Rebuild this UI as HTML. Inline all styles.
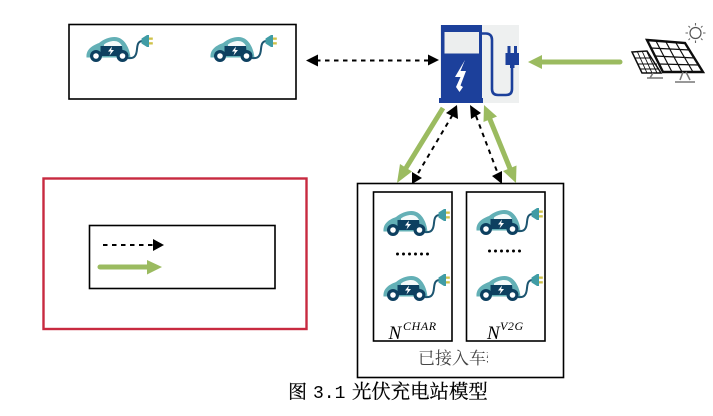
<!DOCTYPE html>
<html>
<head>
<meta charset="utf-8">
<style>
html,body{margin:0;padding:0;background:#fff;width:713px;height:416px;overflow:hidden}
svg{display:block}
.cjk{font-family:"Liberation Serif","Noto Serif CJK SC",serif}
.m{font-family:"Liberation Serif",serif;font-style:italic;fill:#000}
</style>
</head>
<body>
<svg width="713" height="416" viewBox="0 0 713 416" xmlns="http://www.w3.org/2000/svg">
<defs>
<filter id="b" x="-10%" y="-10%" width="120%" height="120%"><feGaussianBlur stdDeviation="0.38"/></filter>
<clipPath id="c"><rect x="410" y="340" width="78" height="30"/></clipPath>
<g id="car">
  <path d="M-0.500 22.500 C-1 15 4 11 12 8 C18 3 26 1 31 2.500 C38 4.500 42.500 13 43.500 22.500Z" fill="#63b0b6"/>
  <path d="M17 9.500 C21 6.500 26 5.500 29.500 6.300 C32 7 34 9 35 11 L17 11Z" fill="#f4fafa"/>
  <path d="M13.500 11 H35 L36 21 H13.500Z" fill="#0f3f60"/>
  <path d="M25 11.500 L21 16.500 H23.800 L22.500 20.500 L27 15 H24.200Z" fill="#fff"/>
  <circle cx="9" cy="21" r="6" fill="#0f3f60"/><circle cx="9" cy="21" r="2.800" fill="#fff"/>
  <circle cx="35.500" cy="21" r="6" fill="#0f3f60"/><circle cx="35.500" cy="21" r="2.800" fill="#fff"/>
  <path d="M41 23 C47.500 24 49.500 20.500 50 14 C50.500 8 52 6 56 6" fill="none" stroke="#1f5570" stroke-width="2"/>
  <path d="M54.500 3.500 L60 0 H62 V12 H60 L54.500 8.500Z" fill="#3f9ca5"/>
  <rect x="62" y="2.500" width="3.800" height="2.300" fill="#cfc24a"/>
  <rect x="62" y="7.200" width="3.800" height="2.300" fill="#cfc24a"/>
</g>
</defs>

<g filter="url(#b)">
  <!-- boxes -->
  <rect x="69" y="24.500" width="227" height="74.500" fill="#fff" stroke="#000" stroke-width="1.600"/>
  <rect x="43.500" y="178.500" width="263" height="150.500" fill="#fff" stroke="#c8293f" stroke-width="2.400"/>
  <rect x="89.500" y="225.500" width="185.500" height="63" fill="#fff" stroke="#000" stroke-width="1.600"/>
  <rect x="357.500" y="183.500" width="206" height="194" fill="#fff" stroke="#000" stroke-width="1.600"/>
  <rect x="373.500" y="192" width="78.500" height="149" fill="#fff" stroke="#000" stroke-width="1.600"/>
  <rect x="466.500" y="192" width="78.500" height="149" fill="#fff" stroke="#000" stroke-width="1.600"/>

  <!-- cars -->
  <use href="#car" x="87" y="35"/>
  <use href="#car" x="211" y="35"/>
  <use href="#car" x="384" y="209"/>
  <use href="#car" x="477" y="208"/>
  <use href="#car" x="384" y="274"/>
  <use href="#car" x="477" y="274"/>

  <!-- dots -->
  <path d="M397.500 254H428" stroke="#000" stroke-width="3" stroke-linecap="round" stroke-dasharray="0 6"/>
  <path d="M489.500 251H520" stroke="#000" stroke-width="3" stroke-linecap="round" stroke-dasharray="0 6"/>

  <!-- charger -->
  <rect x="440" y="25" width="79" height="78" fill="#eef0f0"/>
  <rect x="441" y="25" width="41" height="75" fill="#1d419b"/>
  <rect x="439" y="98" width="44" height="5" fill="#1d419b"/>
  <rect x="444.500" y="32" width="34.500" height="21.500" fill="#eceeee"/>
  <path d="M465 60 L455 77 H460.500 L456 87 L459.500 92 L463 87 L460.500 85.500 L466 71 H460.500Z" fill="#fff"/>
  <path d="M482 33.500 H486 C490 33.500 492 36 492 40 V89 C492 93 494 95 498 95 H506 C510 95 512 93 512 89 V66" fill="none" stroke="#1d419b" stroke-width="2.600"/>
  <path d="M505.500 53 H519 V65 H514.500 V68 H510 V65 H505.500Z" fill="#1d419b"/>
  <rect x="507.500" y="46" width="3" height="7" fill="#1d419b"/>
  <rect x="514" y="46" width="3" height="7" fill="#1d419b"/>

  <!-- solar -->
  <g stroke="#111" fill="#fff">
    <path d="M632 52 L647 51 L661 73 L642 73Z" stroke-width="1.500"/>
    <path d="M635.500 58 H652 M638 64 H657 M640 69 H659 M637.500 52 L647 73 M642.500 52 L652 73 M647 52 L657 73" stroke-width=".9" fill="none"/>
    <path d="M647 40 L685 43 L703 72 L663 72Z" stroke-width="2.400"/>
    <path d="M651 48 L690 50 M655 56 L695 58 M659 64 L699 65 M656 41 L672 72 M666 42 L682 72 M676 43 L693 72" stroke-width="1.200" fill="none"/>
    <path d="M683 72 L680 80 M675 82 H695 M686 72 L690 80 M653 73 L650 78 M647 78 H663" stroke="#777" stroke-width="1.500" fill="none"/>
    <circle cx="695.500" cy="33" r="5.500" stroke-width="1.200" stroke="#555"/>
    <path d="M695.500 23V25.500M695.500 40.500V43M685.500 33H688M703 33H705.500M688.500 26L690 27.500M701 38.500L702.500 40M702.500 26L701 27.500M690 38.500L688.500 40" stroke="#666" stroke-width="1.100" fill="none"/>
  </g>

  <!-- green arrows -->
  <g fill="#9bbb60" stroke="#9bbb60">
    <path d="M620 62 H540" stroke-width="5" stroke-linecap="round" fill="none"/>
    <path d="M528 62 L542 55 V69Z" stroke="none"/>

    <path d="M443 108 L406 168" stroke-width="5" fill="none"/>
    <path d="M397 183 L400 164 L412 171.500Z" stroke="none"/>

    <path d="M489 117 L511 171" stroke-width="5" fill="none"/>
    <path d="M484 105 L497 116.500 L483.500 122Z" stroke="none"/>
    <path d="M516 183 L503 171 L516.500 165.500Z" stroke="none"/>

    <path d="M100 267 H148" stroke-width="5" stroke-linecap="round" fill="none"/>
    <path d="M162 267 L147 260 V274.500Z" stroke="none"/>
  </g>

  <!-- dashed arrows -->
  <g stroke="#000" stroke-width="2" stroke-dasharray="4.500 4.500" fill="none">
    <path d="M316 60.500 H429"/>
    <path d="M452.500 115 L417 175"/>
    <path d="M476 116 L498 174"/>
    <path d="M103 245 H154"/>
  </g>
  <g fill="#000">
    <path d="M306 60.500 L318 54.500 V66.500Z"/>
    <path d="M439 60 L428 54.500 V65.500Z"/>
    <path d="M457 105 L458 119 L446 113Z"/>
    <path d="M412 184 L412 172 L422 178Z"/>
    <path d="M470 105 L481 113 L471 119Z"/>
    <path d="M502 184 L492 176 L502 171Z"/>
    <path d="M164 245 L153 239 V251Z"/>
  </g>

  <!-- labels -->
  <text class="m" x="388.500" y="339" font-size="19">N</text>
  <text class="m" x="403" y="330" font-size="12" letter-spacing=".6">CHAR</text>
  <text class="m" x="487" y="339" font-size="19">N</text>
  <text class="m" x="500" y="330" font-size="12" letter-spacing=".6">V2G</text>
  <text class="cjk" x="418" y="364" font-size="17" fill="#444" clip-path="url(#c)">已接入车辆</text>
</g>

<text class="cjk" x="288" y="398" font-size="19" fill="#000" stroke="#000" stroke-width=".25">图</text>
<text x="313" y="398" font-size="18" fill="#000" font-family="Liberation Mono, monospace">3.1</text>
<text class="cjk" x="352" y="398" font-size="19.400" fill="#000" stroke="#000" stroke-width=".25">光伏充电站模型</text>
</svg>
</body>
</html>
